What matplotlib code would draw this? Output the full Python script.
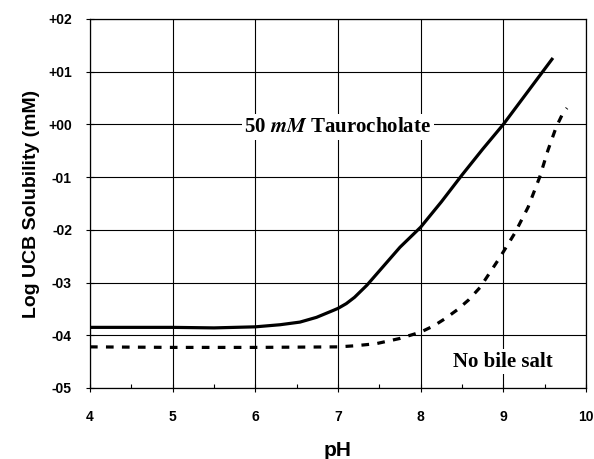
import matplotlib
matplotlib.use("Agg")
import matplotlib.pyplot as plt
from matplotlib.ticker import MultipleLocator

plt.rcParams["mathtext.fontset"] = "stix"

# 50 mM taurocholate curve
ph_tauro = [4.0, 4.5, 5.0, 5.5, 6.0, 6.3, 6.54, 6.74, 6.94, 7.0, 7.1, 7.2, 7.35,
            7.5, 7.75, 8.0, 8.25, 8.5, 8.75, 9.0, 9.3, 9.6]
log_tauro = [-3.85, -3.85, -3.85, -3.86, -3.84, -3.80, -3.75, -3.66, -3.53, -3.49,
             -3.40, -3.28, -3.05, -2.78, -2.33, -1.95, -1.47, -0.96, -0.47, 0.00,
             0.63, 1.26]

# no bile salt curve
ph_plain = [4.0, 5.0, 6.0, 7.0, 7.2, 7.46, 7.75, 8.0, 8.16, 8.3, 8.44, 8.58, 8.72,
            8.96, 9.14, 9.3, 9.44, 9.54, 9.64, 9.72, 9.77]
log_plain = [-4.22, -4.23, -4.23, -4.22, -4.20, -4.16, -4.06, -3.94, -3.82, -3.68,
             -3.52, -3.33, -3.09, -2.52, -2.06, -1.57, -1.00, -0.49, -0.05, 0.21, 0.31]

x_ticks = [4, 5, 6, 7, 8, 9, 10]
y_ticks = [2, 1, 0, -1, -2, -3, -4, -5]
y_tick_labels = ["+02", "+01", "+00", "-01", "-02", "-03", "-04", "-05"]

fig = plt.figure(figsize=(5.94, 4.59), dpi=100)
ax = fig.add_axes([0.1515, 0.1547, 0.835, 0.804])

ax.plot(ph_tauro, log_tauro, color="black", linewidth=2.3, solid_capstyle="butt")
ax.plot(ph_plain, log_plain, color="black", linewidth=2.3, linestyle=(0, (2.4, 2.6)))

ax.set_xlim(4, 10)
ax.set_ylim(-5, 2)
ax.set_xticks(x_ticks)
ax.set_xticklabels([str(t) for t in x_ticks])
ax.set_yticks(y_ticks)
ax.set_yticklabels(y_tick_labels)
ax.xaxis.set_minor_locator(MultipleLocator(0.5))

ax.grid(True, which="major", color="black", linewidth=0.8)
ax.tick_params(axis="both", which="major", direction="inout", length=6, width=0.8,
               labelsize=10)
ax.tick_params(axis="x", which="major", pad=13)
ax.tick_params(axis="y", which="major", pad=10)
ax.tick_params(axis="x", which="minor", direction="in", length=3, width=0.8)
for lab in ax.get_xticklabels() + ax.get_yticklabels():
    lab.set_fontweight("bold")
    lab.set_family("Liberation Sans")
for sp in ax.spines.values():
    sp.set_linewidth(0.9)

ax.set_xlabel("pH", fontsize=15, fontweight="bold", family="Liberation Sans", labelpad=12)
ax.set_ylabel("Log UCB Solubility (mM)", fontsize=14, fontweight="bold",
              family="Liberation Sans", labelpad=6)

ax.text(7.0, -0.05, r"50 $\mathbfit{mM}$ Taurocholate", ha="center", va="center",
        fontsize=15, fontweight="bold", family="Liberation Serif",
        bbox=dict(facecolor="white", edgecolor="none", pad=2))
ax.text(9.0, -4.5, "No bile salt", ha="center", va="center",
        fontsize=15, fontweight="bold", family="Liberation Serif",
        bbox=dict(facecolor="white", edgecolor="none", pad=2))

fig.savefig("out.png", dpi=100)
